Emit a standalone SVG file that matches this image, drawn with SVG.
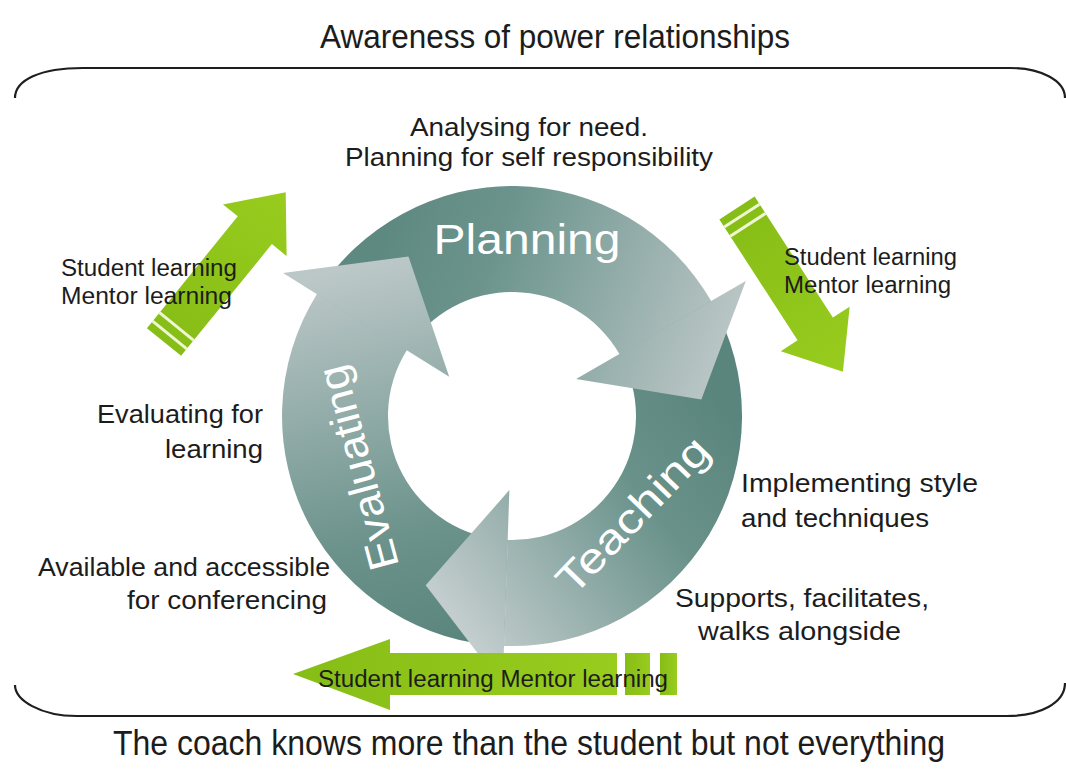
<svg xmlns="http://www.w3.org/2000/svg" width="1066" height="769" viewBox="0 0 1066 769">
<defs>
<style>
text{font-family:"Liberation Sans",Arial,sans-serif;fill:#1c1c1c}
.cap{font-size:34px}
.lbl{font-size:25px}
.alb{font-size:23px}
.ring{font-size:42px;fill:#ffffff}
.frame{fill:none;stroke:#1e1e1e;stroke-width:2.2}
.green{fill:url(#gGreen)}
.stripe{stroke:#eef6d2;stroke-width:3}
</style>
<linearGradient id="gGreen" x1="0" y1="0" x2="1" y2="0">
<stop offset="0" stop-color="#86bd16"/>
<stop offset="1" stop-color="#98cc1e"/>
</linearGradient>
<linearGradient id="gPlan" gradientUnits="userSpaceOnUse" x1="380" y1="250" x2="720" y2="380">
<stop offset="0" stop-color="#5e8981"/>
<stop offset="0.3" stop-color="#6c948d"/>
<stop offset="1" stop-color="#bcc7c7"/>
</linearGradient>
<linearGradient id="gTeach" gradientUnits="userSpaceOnUse" x1="710" y1="390" x2="440" y2="600">
<stop offset="0" stop-color="#5a857d"/>
<stop offset="0.35" stop-color="#6a928b"/>
<stop offset="1" stop-color="#c3cdcd"/>
</linearGradient>
<linearGradient id="gEval" gradientUnits="userSpaceOnUse" x1="470" y1="640" x2="380" y2="260">
<stop offset="0" stop-color="#5a857d"/>
<stop offset="0.3" stop-color="#6b928b"/>
<stop offset="1" stop-color="#bcc8c8"/>
</linearGradient>
</defs>
<rect width="1066" height="769" fill="#ffffff"/>

<g id="frame">
<path class="frame" d="M15,98 C15,80 40,68 83,68 L1010,68 C1040,68 1065,80 1065,98"/>
<path class="frame" d="M15,685 C15,700 40,716 77,716 L1007,716 C1040,716 1065,703 1065,683"/>
</g>

<g id="cycle">
<path fill="url(#gEval)" d="M504.0,645.9 A230,230 0 0 1 317.0,294.1 L406.8,350.3 A124,124 0 0 0 507.7,539.9 Z"/>
<path fill="url(#gPlan)" d="M317.0,294.1 A230,230 0 0 1 711.2,301.0 L619.4,354.0 A124,124 0 0 0 406.8,350.3 Z"/>
<path fill="url(#gTeach)" d="M711.2,301.0 A230,230 0 0 1 504.0,645.9 L507.7,539.9 A124,124 0 0 0 619.4,354.0 Z"/>
<path fill="url(#gEval)" d="M283.0,272.9 L408.5,256.6 L449.2,376.8 Z"/>
<path fill="url(#gPlan)" d="M745.8,281.0 L701.3,399.4 L576.1,379.0 Z"/>
<path fill="url(#gTeach)" d="M502.6,685.8 L425.7,585.3 L509.4,490.0 Z"/>
</g>

<g id="planning">
<text class="ring" x="527" y="254" text-anchor="middle" textLength="187" lengthAdjust="spacingAndGlyphs">Planning</text>
</g>
<g id="teaching">
<text class="ring" transform="translate(643,525) rotate(-46)" text-anchor="middle" textLength="200" lengthAdjust="spacingAndGlyphs">Teaching</text>
</g>
<g id="evaluating">
<text class="ring" transform="translate(372,464) rotate(-105)" text-anchor="middle" textLength="210" lengthAdjust="spacingAndGlyphs">Evaluating</text>
</g>

<g id="connectors">
<g id="arrow-left" transform="translate(164,342) rotate(-50.9)">
<path class="green" d="M0,-22 L144,-22 L144,-41 L193,0 L144,41 L144,22 L0,22 Z"/>
<line class="stripe" x1="9" y1="-22" x2="9" y2="22"/>
<line class="stripe" x1="20" y1="-22" x2="20" y2="22"/>
</g>
<g id="arrow-right" transform="translate(737,208) rotate(57.1)">
<path class="green" d="M0,-21 L144,-21 L144,-41 L195,0 L144,41 L144,21 L0,21 Z"/>
<line class="stripe" x1="9" y1="-21" x2="9" y2="21"/>
<line class="stripe" x1="20" y1="-21" x2="20" y2="21"/>
</g>
<g id="arrow-bottom">
<path class="green" d="M293,674 L390,639 L390,653 L617,653 L617,695 L390,695 L390,710 Z"/>
<rect class="green" x="625" y="653" width="25" height="42"/>
<rect class="green" x="660" y="653" width="17" height="42"/>
</g>
</g>

<g id="title">
<text class="cap" x="555" y="48" text-anchor="middle" textLength="470" lengthAdjust="spacingAndGlyphs">Awareness of power relationships</text>
</g>
<g id="planning-note">
<text class="lbl" x="529" y="136" text-anchor="middle" textLength="238" lengthAdjust="spacingAndGlyphs">Analysing for need.</text>
<text class="lbl" x="529" y="166" text-anchor="middle" textLength="368" lengthAdjust="spacingAndGlyphs">Planning for self responsibility</text>
</g>
<g id="left-arrow-label">
<text class="alb" x="61" y="276" textLength="176" lengthAdjust="spacingAndGlyphs">Student learning</text>
<text class="alb" x="61" y="304" textLength="171" lengthAdjust="spacingAndGlyphs">Mentor learning</text>
</g>
<g id="right-arrow-label">
<text class="alb" x="784" y="265" textLength="173" lengthAdjust="spacingAndGlyphs">Student learning</text>
<text class="alb" x="784" y="293" textLength="167" lengthAdjust="spacingAndGlyphs">Mentor learning</text>
</g>
<g id="evaluating-note">
<text class="lbl" x="263" y="423" text-anchor="end" textLength="166" lengthAdjust="spacingAndGlyphs">Evaluating for</text>
<text class="lbl" x="263" y="458" text-anchor="end" textLength="98" lengthAdjust="spacingAndGlyphs">learning</text>
</g>
<g id="teaching-note">
<text class="lbl" x="741" y="492" textLength="237" lengthAdjust="spacingAndGlyphs">Implementing style</text>
<text class="lbl" x="741" y="527" textLength="188" lengthAdjust="spacingAndGlyphs">and techniques</text>
</g>
<g id="conferencing-note">
<text class="lbl" x="330" y="576" text-anchor="end" textLength="292" lengthAdjust="spacingAndGlyphs">Available and accessible</text>
<text class="lbl" x="327" y="609" text-anchor="end" textLength="200" lengthAdjust="spacingAndGlyphs">for conferencing</text>
</g>
<g id="support-note">
<text class="lbl" x="675" y="607" textLength="254" lengthAdjust="spacingAndGlyphs">Supports, facilitates,</text>
<text class="lbl" x="698" y="640" textLength="203" lengthAdjust="spacingAndGlyphs">walks alongside</text>
</g>
<g id="bottom-arrow-label">
<text class="alb" x="318" y="687" textLength="350" lengthAdjust="spacingAndGlyphs">Student learning Mentor learning</text>
</g>
<g id="caption">
<text class="cap" x="113" y="755" style="font-size:35px" textLength="832" lengthAdjust="spacingAndGlyphs">The coach knows more than the student but not everything</text>
</g>
</svg>
